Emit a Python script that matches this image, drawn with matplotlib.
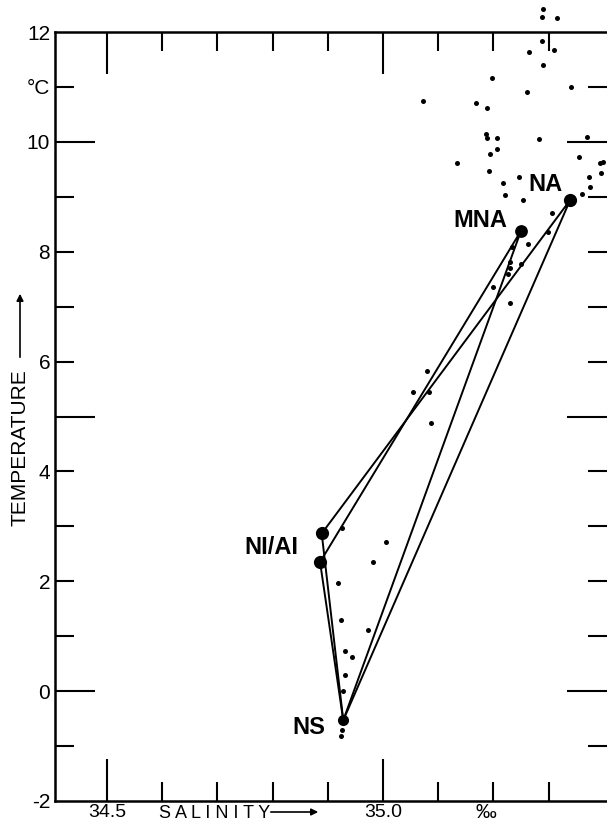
import numpy as np
import matplotlib
matplotlib.use("Agg")
import matplotlib.pyplot as plt

plt.rcParams['font.family'] = ['Liberation Sans', 'DejaVu Sans']

# observed T-S points (salinity in permille, temperature in degC)
sal_obs = [35.290, 35.288, 35.315, 35.288, 35.264, 35.310, 35.290, 35.197, 35.261, 35.341,
           35.072, 35.168, 35.188, 35.187, 35.188, 35.207, 35.283, 35.370, 35.207, 35.194,
           35.355, 35.134, 35.192, 35.393, 35.399, 35.395, 35.373, 35.217, 35.246, 35.221,
           35.254, 35.375, 35.361, 35.306, 35.299, 35.263, 35.234, 35.230, 35.250, 35.230,
           35.226, 35.199, 35.230, 35.080, 35.054, 35.083, 35.087, 34.926, 35.005, 34.982,
           34.918, 34.924, 34.973, 34.931, 34.944, 34.931, 34.928, 34.926, 34.924]
temp_obs = [12.42, 12.27, 12.26, 11.84, 11.64, 11.67, 11.40, 11.16, 10.91, 11.00,
            10.74, 10.71, 10.62, 10.14, 10.07, 10.07, 10.05, 10.09, 9.87, 9.78,
            9.72, 9.61, 9.47, 9.61, 9.63, 9.43, 9.36, 9.25, 9.36, 9.03,
            8.94, 9.18, 9.05, 8.70, 8.36, 8.14, 8.08, 7.81, 7.77, 7.70,
            7.59, 7.36, 7.06, 5.83, 5.44, 5.44, 4.88, 2.97, 2.71, 2.35,
            1.96, 1.29, 1.11, 0.73, 0.63, 0.29, 0.00, -0.71, -0.81]

# water mass end members: NA, MNA, NI/AI (upper), NI/AI (lower), NS
em_sal = [35.339, 35.250, 34.889, 34.886, 34.928]
em_temp = [8.94, 8.38, 2.87, 2.35, -0.53]
em_size = [9.5, 9.2, 9.5, 9.5, 8.0]

# mixing triangles (indices into end members)
triangles = [(2, 0, 4), (3, 1, 4)]

# axis ticks
x_ticks = [34.5, 34.6, 34.7, 34.8, 34.9, 35.0, 35.1, 35.2, 35.3]
x_labels = ['34.5', '', '', '', '', '35.0', '', '', '']
y_ticks = list(range(-2, 13))
y_labels = ['-2', '', '0', '', '2', '', '4', '', '6', '', '8', '', '10', '°C', '12']

fig = plt.figure(figsize=(6.07, 8.23), dpi=100)
ax = fig.add_axes([55/607, 22/823, 552/607, 769/823])
ax.set_xlim(34.4058, 35.4058)
ax.set_ylim(-2, 12)

for tri in triangles:
    idx = list(tri) + [tri[0]]
    ax.plot([em_sal[i] for i in idx], [em_temp[i] for i in idx],
            color='black', lw=1.4, solid_joinstyle='round', zorder=2)

ax.plot(sal_obs, temp_obs, 'o', color='black', ms=3.6, mew=0, clip_on=False, zorder=3)
for s, t, m in zip(em_sal, em_temp, em_size):
    ax.plot(s, t, 'o', color='black', ms=m, mew=0, zorder=4)

lab_kw = dict(fontsize=17, fontweight='bold', color='black')
ax.text(35.295, 9.23, 'NA', ha='center', va='center', **lab_kw)
ax.text(35.176, 8.56, 'MNA', ha='center', va='center', **lab_kw)
ax.text(34.846, 2.62, 'NI/AI', ha='right', va='center', **lab_kw)
ax.text(34.866, -0.67, 'NS', ha='center', va='center', **lab_kw)

for sp in ['left', 'top', 'bottom']:
    ax.spines[sp].set_linewidth(1.8)
ax.spines['right'].set_visible(False)

ax.set_xticks(x_ticks)
ax.set_xticklabels(x_labels)
ax.set_yticks(y_ticks)
ax.set_yticklabels(y_labels)
ax.tick_params(direction='in', top=True, right=True, width=1.5, color='black')
ax.tick_params(axis='x', labelsize=14, pad=2.5)
ax.tick_params(axis='y', labelsize=15, pad=3.5)

for tk, v in zip(ax.xaxis.get_major_ticks(), x_ticks):
    L = 30 if v in (34.5, 35.0) else 14
    tk.tick1line.set_markersize(L)
    tk.tick2line.set_markersize(L)
for tk, v in zip(ax.yaxis.get_major_ticks(), y_ticks):
    L = 29 if v in (0, 5, 10) else 13.5
    if v in (-2, 12):
        L = 0
    tk.tick1line.set_markersize(L)
    tk.tick2line.set_markersize(L)

# axis titles with arrows
fig.text(20/607, 1 - 448/823, 'TEMPERATURE', rotation=90, ha='center', va='center', fontsize=15)
ax.annotate('', xy=(20/607, 1 - 291/823), xytext=(20/607, 1 - 360/823),
            xycoords='figure fraction', textcoords='figure fraction',
            arrowprops=dict(arrowstyle='-|>', color='black', lw=1.2, mutation_scale=10))
fig.text(215/607, 1 - 813/823, 'S A L I N I T Y', ha='center', va='center', fontsize=13)
ax.annotate('', xy=(321/607, 1 - 812/823), xytext=(268/607, 1 - 812/823),
            xycoords='figure fraction', textcoords='figure fraction',
            arrowprops=dict(arrowstyle='-|>', color='black', lw=1.2, mutation_scale=10))
fig.text(486/607, 1 - 813/823, '‰', ha='center', va='center', fontsize=15)

fig.savefig('out.png', dpi=100)
